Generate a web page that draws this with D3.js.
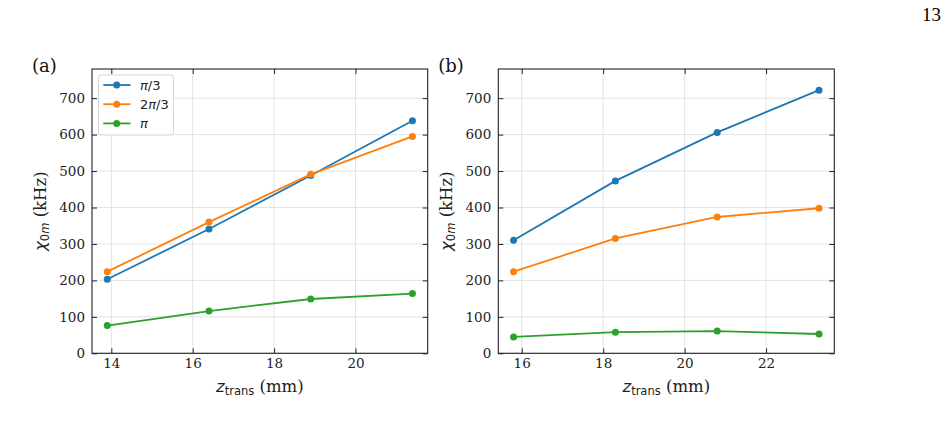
<!DOCTYPE html>
<html>
<head>
<meta charset="utf-8">
<script src="https://cdn.jsdelivr.net/npm/d3@7"></script>
<style>
  body { margin: 0; background: #fff; }
  svg { display: block; }
</style>
</head>
<body>
<svg id="chart" width="947" height="423"></svg>
<script>
// panel (a)
const zA = [13.9, 16.4, 18.9, 21.4];
const aPi3 = [203, 341, 488, 638];
const a2Pi3 = [224, 360, 491, 595];
const aPi = [76, 116, 149, 164];

// panel (b)
const zB = [15.8, 18.3, 20.8, 23.3];
const bPi3 = [310, 473, 606, 722];
const b2Pi3 = [224, 315, 374, 398];
const bPi = [45, 58, 61, 53];

const seriesNames = ["π/3", "2π/3", "π"];
const colors = ["#1f77b4", "#ff7f0e", "#2ca02c"];
const yTicks = [0, 100, 200, 300, 400, 500, 600, 700];
const xTicksA = [14, 16, 18, 20];
const xTicksB = [16, 18, 20, 22];

const svg = d3.select("#chart");
const serif = "DejaVu Serif, serif";
const sans = "DejaVu Sans, sans-serif";

svg.append("rect").attr("width", 947).attr("height", 423).attr("fill", "#fff");

// page number
svg.append("text")
    .attr("x", 941).attr("y", 20.5)
    .attr("text-anchor", "end")
    .style("font-family", "Liberation Serif, serif")
    .style("font-size", "19px")
    .text("13");

function drawPanel(opts) {
    const { left, right, top, bottom, xs, series, xTicks, tag } = opts;
    const w = right - left, h = bottom - top;
    const pad = (d3.max(xs) - d3.min(xs)) * 0.05;

    const x = d3.scaleLinear().domain([d3.min(xs) - pad, d3.max(xs) + pad]).range([0, w]);
    const y = d3.scaleLinear().domain([0, 780]).range([h, 0]);

    const g = svg.append("g").attr("transform", `translate(${left},${top})`);

    // grid
    g.append("g").selectAll("line").data(xTicks).join("line")
        .attr("x1", d => x(d)).attr("x2", d => x(d))
        .attr("y1", 0).attr("y2", h)
        .attr("stroke", "#e3e3e3").attr("stroke-width", 1);
    g.append("g").selectAll("line").data(yTicks).join("line")
        .attr("y1", d => y(d)).attr("y2", d => y(d))
        .attr("x1", 0).attr("x2", w)
        .attr("stroke", "#e3e3e3").attr("stroke-width", 1);

    // axes, ticks pointing in
    const styleAxis = sel => {
        sel.select(".domain").remove();
        sel.selectAll(".tick line").attr("stroke", "#222").attr("stroke-width", 1);
        sel.selectAll("text")
            .attr("fill", "#222")
            .style("font-family", serif)
            .style("font-size", "13.5px");
    };
    g.append("g").attr("transform", `translate(0,${h})`)
        .call(d3.axisBottom(x).tickValues(xTicks).tickSizeInner(-5).tickSizeOuter(0).tickPadding(5))
        .call(styleAxis);
    g.append("g")
        .call(d3.axisTop(x).tickValues(xTicks).tickSizeInner(-5).tickSizeOuter(0).tickFormat(""))
        .call(styleAxis);
    g.append("g")
        .call(d3.axisLeft(y).tickValues(yTicks).tickSizeInner(-5).tickSizeOuter(0).tickPadding(7))
        .call(styleAxis);
    g.append("g").attr("transform", `translate(${w},0)`)
        .call(d3.axisRight(y).tickValues(yTicks).tickSizeInner(-5).tickSizeOuter(0).tickFormat(""))
        .call(styleAxis);

    // series
    const line = d3.line().x(d => x(d[0])).y(d => y(d[1]));
    series.forEach((vals, i) => {
        const pts = xs.map((v, j) => [v, vals[j]]);
        g.append("path").datum(pts)
            .attr("d", line)
            .attr("fill", "none")
            .attr("stroke", colors[i])
            .attr("stroke-width", 1.8);
        g.append("g").selectAll("circle").data(pts).join("circle")
            .attr("cx", d => x(d[0])).attr("cy", d => y(d[1]))
            .attr("r", 3.5)
            .attr("fill", colors[i]);
    });

    // frame
    g.append("rect").attr("width", w).attr("height", h)
        .attr("fill", "none").attr("stroke", "#222").attr("stroke-width", 1.1);

    // x label
    const xl = g.append("text")
        .attr("x", w / 2).attr("y", h + 39)
        .attr("text-anchor", "middle")
        .attr("fill", "#222")
        .style("font-size", "16.5px");
    xl.append("tspan").style("font-family", sans).style("font-style", "italic").text("z");
    xl.append("tspan").style("font-family", sans).style("font-size", "11.5px").attr("dy", 2.8).text("trans");
    xl.append("tspan").style("font-family", serif).attr("dy", -2.8).text(" (mm)");

    // y label
    const yl = g.append("text")
        .attr("transform", `translate(${-46},${h / 2}) rotate(-90)`)
        .attr("text-anchor", "middle")
        .attr("fill", "#222")
        .style("font-size", "16.5px");
    yl.append("tspan").style("font-family", sans).style("font-style", "italic").text("χ");
    yl.append("tspan").style("font-family", sans).style("font-size", "11.5px").attr("dy", 2.8).text("0");
    yl.append("tspan").style("font-family", sans).style("font-size", "11.5px").style("font-style", "italic").text("m");
    yl.append("tspan").style("font-family", serif).attr("dy", -2.8).text(" (kHz)");

    // panel tag
    svg.append("text")
        .attr("x", left - 60).attr("y", top + 3)
        .attr("fill", "#111")
        .style("font-family", serif)
        .style("font-size", "18px")
        .text(tag);

    return { g, x, y, w, h };
}

const pa = drawPanel({
    left: 92, right: 427.7, top: 69, bottom: 353.3,
    xs: zA, series: [aPi3, a2Pi3, aPi], xTicks: xTicksA, tag: "(a)"
});
drawPanel({
    left: 498.3, right: 834.3, top: 69, bottom: 353.3,
    xs: zB, series: [bPi3, b2Pi3, bPi], xTicks: xTicksB, tag: "(b)"
});

// legend in panel (a)
const leg = pa.g.append("g").attr("transform", "translate(6.5,6)");
leg.append("rect")
    .attr("width", 75).attr("height", 60)
    .attr("rx", 2.5)
    .attr("fill", "#fff").attr("fill-opacity", 0.85)
    .attr("stroke", "#d6d6d6").attr("stroke-width", 1);
seriesNames.forEach((name, i) => {
    const yy = 10 + i * 19.2;
    leg.append("line")
        .attr("x1", 4.8).attr("x2", 32).attr("y1", yy).attr("y2", yy)
        .attr("stroke", colors[i]).attr("stroke-width", 1.8);
    leg.append("circle").attr("cx", 18.2).attr("cy", yy).attr("r", 3.5).attr("fill", colors[i]);
    const t = leg.append("text")
        .attr("x", 41.5).attr("y", yy + 4.8)
        .attr("fill", "#222")
        .style("font-family", sans)
        .style("font-size", "13px");
    // π italic as in mathtext, digits and slash upright
    name.split(/(π)/).filter(s => s).forEach(part => {
        t.append("tspan").style("font-style", part === "π" ? "italic" : "normal").text(part);
    });
});
</script>
</body>
</html>
